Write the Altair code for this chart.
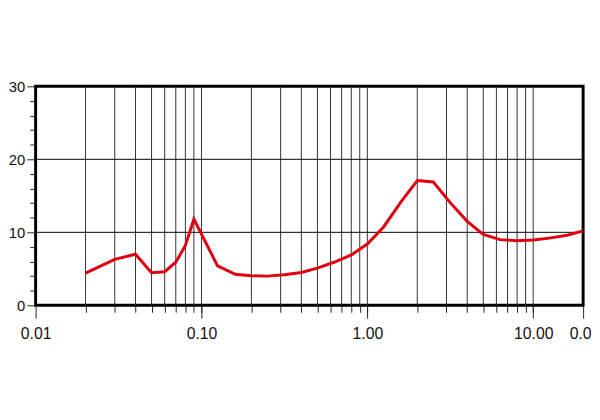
import altair as alt
import pandas as pd

# data
freq = [0.02, 0.03, 0.04, 0.05, 0.06, 0.07, 0.08, 0.09, 0.125, 0.16, 0.2, 0.25,
        0.315, 0.4, 0.5, 0.63, 0.8, 1.0, 1.25, 1.6, 2.0, 2.5, 3.15, 4.0, 5.0,
        6.3, 8.0, 10.0, 12.5, 16.0, 20.0]
value = [4.4, 6.3, 7.0, 4.45, 4.6, 5.9, 8.2, 11.8, 5.4, 4.25, 4.05, 4.0,
         4.2, 4.5, 5.1, 5.9, 6.9, 8.4, 10.7, 14.2, 17.1, 16.9, 14.1, 11.5, 9.7,
         9.0, 8.85, 8.95, 9.2, 9.6, 10.2]

x_grid = [0.02, 0.03, 0.04, 0.05, 0.06, 0.07, 0.08, 0.09, 0.1,
          0.2, 0.3, 0.4, 0.5, 0.6, 0.7, 0.8, 0.9, 1.0,
          2, 3, 4, 5, 6, 7, 8, 9, 10]
x_major = [0.01, 0.1, 1.0, 10.0, 20.0]
y_grid = [10, 20]
y_major = [0, 10, 20, 30]
y_minor = [2, 4, 6, 8, 12, 14, 16, 18, 22, 24, 26, 28]

df = pd.DataFrame({"f": freq, "v": value})
gx = pd.DataFrame({"f": x_grid})
gy = pd.DataFrame({"v": y_grid})

xs = alt.Scale(type="log", domain=[0.01, 20], nice=False)
ys = alt.Scale(domain=[0, 30], nice=False)

FONT = "Liberation Sans"

vgrid = alt.Chart(gx).mark_rule(color="#333333", strokeWidth=1).encode(
    x=alt.X("f:Q", scale=xs, title=None,
            axis=alt.Axis(values=x_grid, labels=False, tickSize=7, tickColor="#222222",
                          grid=False, domain=False, orient="bottom"))
)

hgrid = alt.Chart(gy).mark_rule(color="black", strokeWidth=1).encode(
    y=alt.Y("v:Q", scale=ys, title=None,
            axis=alt.Axis(values=y_minor, labels=False, tickSize=6, tickColor="#222222",
                          grid=False, domain=False, orient="left"))
)

line = alt.Chart(df).mark_line(color="#e0000f", strokeWidth=3).encode(
    x=alt.X("f:Q", scale=xs, title=None,
            axis=alt.Axis(values=x_major, tickSize=13, tickColor="#222222", grid=False,
                          domain=False, orient="bottom", labelPadding=8,
                          labelExpr="datum.value >= 15 ? '0.0' : format(datum.value, '.2f')",
                          labelOffset={"condition": {"test": "datum.value >= 15", "value": -3}, "value": 0},
                          labelFont=FONT, labelFontSize=16, labelColor="#111111",
                          labelOverlap=False, labelFlush=False)),
    y=alt.Y("v:Q", scale=ys, title=None,
            axis=alt.Axis(values=y_major, tickSize=9, tickColor="#222222", grid=False,
                          domain=False, orient="left", labelPadding=2,
                          labelFont=FONT, labelFontSize=15, labelColor="#111111")),
)

chart = alt.layer(vgrid, hgrid, line).resolve_axis(x="independent", y="independent").properties(
    width=555, height=222,
    autosize=alt.AutoSizeParams(type="none"),
    padding={"left": 28, "top": 77, "right": 9, "bottom": 50},
).configure_view(stroke="black", strokeWidth=3)

chart.save("out.html", embed_options={"renderer": "svg", "actions": False})
